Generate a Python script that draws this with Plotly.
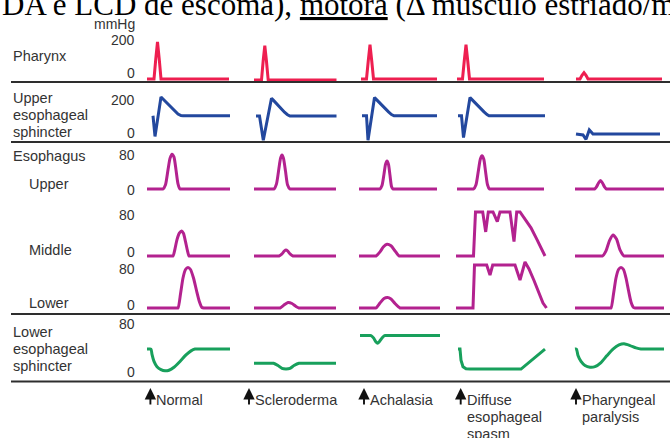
import plotly.graph_objects as go

W, H = 670, 438

# ---------------- data (time in arbitrary units from column start, pressure in mmHg) -------------
conditions = ["Normal", "Scleroderma", "Achalasia", "Diffuse<br>esophageal<br>spasm", "Pharyngeal<br>paralysis"]
swallow_onset = [3.4, -5, 4, 3.7, 1]

pharynx_t = [
    [0, 7, 8.8, 10.5, 12.2, 14, 82],
    [0, 7.5, 9.2, 10.8, 12.4, 14.2, 82.5],
    [1, 6.5, 8.3, 10, 11.7, 13.5, 77],
    [0, 5.5, 7.3, 9, 10.7, 12.5, 87],
    [1, 5, 7, 9, 11, 13, 87],
]
pharynx_p = [
    [0, 0, 110, 200, 110, 0, 0],
    [-6, -6, 100, 180, 100, -6, -6],
    [0, 0, 100, 185, 100, 0, 0],
    [0, 0, 100, 185, 100, 0, 0],
    [0, 0, 20, 34, 20, 0, 0],
]

ues_t = [
    [6, 8, 14, 16, 20, 24, 28, 31, 34, 36, 83],
    [2, 5.5, 9.3, 17.5, 19.5, 23, 27, 30.5, 33.5, 36, 82.5],
    [2, 6.5, 8, 14.5, 16.5, 20.5, 24.5, 28.5, 31.5, 34, 77],
    [1, 4.5, 6.5, 13, 15, 19, 23, 27, 30, 32, 88],
    [1, 8, 11, 14.3, 18, 85],
]
ues_p = [
    [110, -8, 217, 205, 180, 157, 136, 120, 111, 110, 110],
    [108, 108, -30, 210, 198, 175, 150, 130, 116, 108, 108],
    [110, 110, -30, 214, 202, 177, 152, 132, 117, 110, 110],
    [110, 110, -15, 214, 202, 177, 152, 132, 117, 110, 110],
    [6, 0, -25, 29, 6, 6],
]

upper_t = [
    [0, 14, 16, 18.5, 21, 23, 25, 27, 29, 31, 33, 35, 83],
    [0, 18, 20, 22.5, 25, 26.5, 28, 29.5, 31.5, 33.5, 36, 38, 82],
    [-1, 18, 20, 22, 24, 25.5, 27, 28.5, 30, 31.5, 33, 35, 77],
    [0, 14.5, 16.5, 19, 21.5, 23.3, 25, 26.8, 28.5, 30.5, 32.5, 34.5, 87],
    [0, 17.5, 19.5, 21.5, 23.5, 25.5, 27.5, 29.5, 31.5, 33.5, 89],
]
upper_p = [
    [0, 0, 0, 10, 45, 72, 82, 75, 45, 12, 0, 0, 0],
    [0, 0, 0, 12, 50, 72, 80, 72, 42, 10, 0, 0, 0],
    [0, 0, 0, 8, 35, 58, 66, 58, 32, 6, 0, 0, 0],
    [0, 0, 0, 10, 45, 70, 78, 70, 42, 10, 0, 0, 0],
    [0, 0, 0, 5, 14, 20, 14, 5, 0, 0, 0],
]

middle_t = [
    [0, 24, 26, 28, 30, 32.5, 34.7, 36.5, 38.5, 40.5, 42, 44, 83],
    [0, 23, 25, 28, 30.5, 32, 33.5, 36, 39, 41, 82],
    [-1, 14, 16, 20, 23.5, 27, 31, 35, 39, 41, 80],
    [-1, 16.5, 18.5, 25.7, 28.7, 31.3, 36, 40.3, 43, 53, 57, 59.7, 63, 68, 74, 80, 85, 88],
    [0, 25.5, 27.5, 31, 34.5, 38, 41.5, 45, 49, 51, 89],
]
middle_p = [
    [0, 0, 0, 14, 32, 45, 49, 44, 28, 10, 0, 0, 0],
    [0, 0, 0, 4, 10, 11.5, 10, 4, 0, 0, 0],
    [0, 0, 0, 8, 18, 23, 20, 10, 0, 0, 0],
    [0, 0, 86, 86, 47, 86, 86, 67, 86, 86, 28, 86, 86, 72, 55, 32, 10, 0],
    [0, 0, 0, 10, 30, 41, 33, 12, 0, 0, 0],
]

lower_t = [
    [0, 29, 31, 33.5, 36, 38.5, 41, 43.5, 46.5, 49.5, 52.5, 55, 57, 59, 83],
    [0, 24, 26, 30, 34, 38, 42, 45, 47, 82],
    [-1, 14, 16, 20, 24, 27.5, 31, 35, 40, 42, 80],
    [-1, 16, 17.5, 29.7, 33, 35.7, 58, 63, 68, 72, 77, 82, 86, 89.5],
    [0, 34, 36, 38.5, 41, 43.5, 46, 48.5, 51, 53.5, 56, 58.5, 60, 62, 89],
]
lower_p = [
    [0, 0, 0, 28, 60, 77, 81, 77, 60, 35, 12, 1, 0, 0, 0],
    [0, 0, 0, 6, 11, 9, 3, 0, 0, 0],
    [0, 0, 0, 10, 19, 21, 18, 9, 0, 0, 0],
    [0, 0, 86, 86, 66, 86, 86, 56, 92, 78, 55, 30, 10, 0],
    [0, 0, 0, 28, 60, 77, 81, 77, 60, 35, 12, 1, 0, 0, 0],
]

les_t = [
    [0, 2, 4, 5, 7, 10, 14, 18, 22, 27, 33, 39, 44, 48, 51, 83],
    [0, 17.5, 19.5, 24, 28, 32, 36, 40, 45, 47, 82],
    [0, 9, 11, 13.5, 16, 17.5, 19.5, 22, 24.5, 26.5, 80],
    [1, 3, 4, 6, 9, 13, 64, 88],
    [0, 1.5, 3, 6, 10, 15, 20, 26, 32, 38, 44, 49, 55, 61, 66, 68, 89],
]
les_p = [
    [39, 39, 39, 30, 18, 9, 4, 2, 3, 8, 18, 29, 36, 39, 39, 39],
    [15, 15, 15, 11, 6, 5, 6, 11, 15, 15, 15],
    [62, 62, 62, 58, 51, 49, 52, 58, 62, 62, 62],
    [39, 39, 20, 9, 5.5, 5, 5, 39],
    [39, 39, 28, 18, 11, 8, 9, 16, 28, 39, 46, 48, 45, 41, 39, 39, 39],
]

# ---------------- layout definitions (pixel geometry) ----------------
col_start_px = [147, 254, 360, 457, 575]
# (times, pressures, colour, px of 0, px of top tick, top tick value, smooth)
rows = [
    (pharynx_t, pharynx_p, "#ee1f50", 79, 42, 200, False),
    (ues_t, ues_p, "#23489e", 135, 100, 200, False),
    (upper_t, upper_p, "#b3228f", 189, 155, 80, True),
    (middle_t, middle_p, "#b3228f", 256, 215, 80, True),
    (lower_t, lower_p, "#b3228f", 308, 268, 80, True),
    (les_t, les_p, "#18a05c", 372, 325, 80, True),
]
sharp_col = 3  # spasm traces keep their corners

def py(px):
    return 1 - px / H

def px_x(px):
    return px / W

fig = go.Figure()
layout_axes = {}
for c, s in enumerate(col_start_px):
    name = "xaxis" if c == 0 else f"xaxis{c+1}"
    layout_axes[name] = dict(domain=[px_x(s - 10), min(px_x(s + 95), 1)], range=[-10, 95],
                             visible=False, fixedrange=True, anchor="free", position=0)

for r, (tt, pp, color, zero_px, top_px, top_val, smooth) in enumerate(rows):
    k = (zero_px - top_px) / top_val
    lo_px, hi_px = zero_px + 10, top_px - 14
    name = "yaxis" if r == 0 else f"yaxis{r+1}"
    layout_axes[name] = dict(domain=[py(lo_px), py(hi_px)], range=[-10 / k, top_val + 14 / k],
                             visible=False, fixedrange=True, anchor="free", position=0)
    for c in range(5):
        use_spline = smooth and not (c == sharp_col and r in (3, 4, 5))
        fig.add_trace(go.Scatter(
            x=tt[c], y=pp[c], mode="lines",
            line=dict(color=color, width=3, shape="spline" if use_spline else "linear",
                      smoothing=0.6 if use_spline else None),
            xaxis="x" if c == 0 else f"x{c+1}",
            yaxis="y" if r == 0 else f"y{r+1}",
            showlegend=False, hoverinfo="skip", cliponaxis=False))

# ---------------- text ----------------
sans = "Liberation Sans, Arial, sans-serif"
txt_col = "#333333"
ann = []

def label(text, x, y, anchor="left", size=14.5):
    ann.append(dict(text=text, x=px_x(x), y=py(y), xref="paper", yref="paper",
                    xanchor=anchor, yanchor="middle", showarrow=False,
                    font=dict(family=sans, size=size, color=txt_col)))

# left row labels
left_labels = [("Pharynx", 11, 56), ("Upper", 11, 98), ("esophageal", 11, 115), ("sphincter", 11, 132),
               ("Esophagus", 11, 156), ("Upper", 27, 184), ("Middle", 27, 250), ("Lower", 27, 303),
               ("Lower", 11, 332), ("esophageal", 11, 349), ("sphincter", 11, 366)]
for t, x, y in left_labels:
    label(t, x, y)

# pressure scale labels
scale_labels = [("mmHg", 24), ("200", 40), ("0", 73), ("200", 100), ("0", 133), ("80", 155), ("0", 190),
                ("80", 215), ("0", 252), ("80", 269), ("0", 305), ("80", 324), ("0", 372)]
for t, y in scale_labels:
    label(t, 137, y, anchor="right", size=14)

# swallow arrows and condition labels
for c, name in enumerate(conditions):
    xr = "x" if c == 0 else f"x{c+1}"
    ann.append(dict(x=swallow_onset[c], y=py(388), xref=xr, yref="paper", text="",
                    showarrow=True, arrowhead=2, arrowsize=1.2, arrowwidth=1.9, arrowcolor="#111111",
                    ax=0, ay=18))
    for i, line in enumerate(name.split("<br>")):
        ann.append(dict(x=swallow_onset[c], y=py(400 + 17 * i), xref=xr, yref="paper", text=line,
                        xanchor="left", yanchor="middle", xshift=4, showarrow=False,
                        font=dict(family=sans, size=14.5, color=txt_col)))

# cut-off slide text at the top
ann.append(dict(text="DA e LCD de escoma), <u>motora</u> (Δ músculo estriado/músculo liso)",
                x=0, y=py(4), xref="paper", yref="paper", xanchor="left", yanchor="middle",
                showarrow=False, font=dict(family="Liberation Serif, Times New Roman, serif", size=31, color="#000000")))

# separator rules
shapes = []
for ypx in [82, 142, 314, 381.5]:
    shapes.append(dict(type="line", xref="paper", yref="paper", x0=px_x(11), x1=1,
                       y0=py(ypx), y1=py(ypx), line=dict(color="#2e2e2e", width=2)))

fig.update_layout(
    width=W, height=H, margin=dict(l=0, r=0, t=0, b=0),
    paper_bgcolor="white", plot_bgcolor="rgba(0,0,0,0)",
    annotations=ann, shapes=shapes, **layout_axes,
)

fig.write_html("out.html", config={"displayModeBar": False},
               post_script="document.body.style.margin='0';document.body.style.overflow='hidden';")
